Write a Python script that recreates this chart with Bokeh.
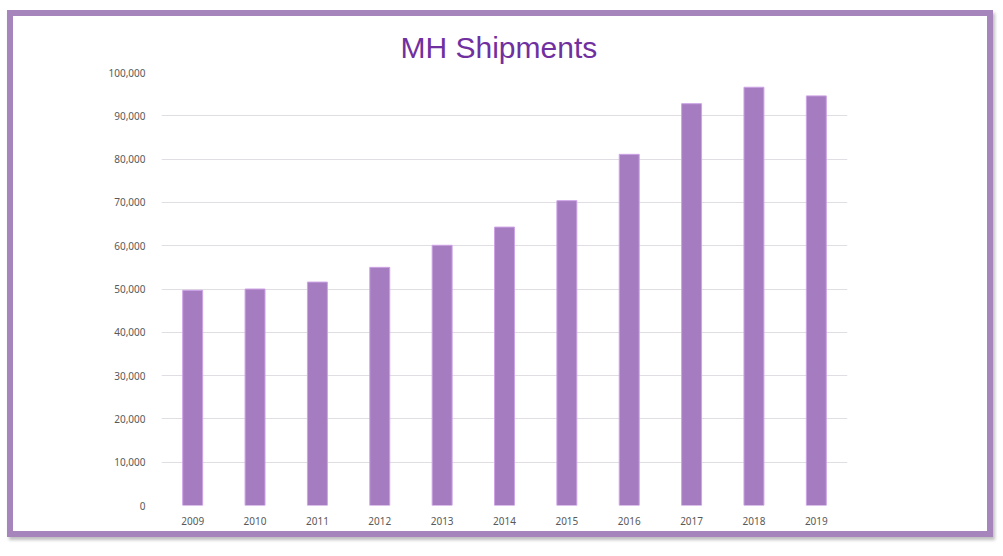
from bokeh.plotting import figure
from bokeh.models import NumeralTickFormatter, FixedTicker, Title
from bokeh.embed import file_html
from bokeh.resources import INLINE

years = ["2009", "2010", "2011", "2012", "2013", "2014", "2015", "2016", "2017", "2018", "2019"]
shipments = [49700, 50000, 51600, 55000, 60100, 64300, 70400, 81100, 92800, 96600, 94600]
y_ticks = [0, 10000, 20000, 30000, 40000, 50000, 60000, 70000, 80000, 90000, 100000]

p = figure(x_range=years, y_range=(0, 100000), width=986, height=527,
           output_backend="svg", toolbar_location=None,
           min_border_left=148, min_border_right=152, min_border_top=56, min_border_bottom=38)
p.styles = {"border": "6px solid #a585bb", "margin-left": "7px", "margin-top": "10px",
            "box-shadow": "2px 3px 3px rgba(0,0,0,0.25)"}

p.vbar(x=years, top=shipments, width=0.32, fill_color="#a67cc0", line_color="#cda3e6", line_width=1)

p.title = Title(text="MH Shipments", align="left", text_font="Liberation Sans",
                text_font_size="30px", text_font_style="normal", text_color="#7030a0",
                standoff=17, offset=239)

p.outline_line_color = None
p.background_fill_color = "white"
p.border_fill_color = "white"

p.yaxis.ticker = FixedTicker(ticks=y_ticks)
p.yaxis.formatter = NumeralTickFormatter(format="0,0")
for ax in (p.xaxis, p.yaxis):
    ax.axis_line_color = None
    ax.major_tick_line_color = None
    ax.minor_tick_line_color = None
    ax.major_label_text_font = "Noto Sans"
    ax.major_label_text_font_size = "10px"
    ax.major_label_text_color = "#595959"
p.yaxis.major_label_standoff = 10
p.xaxis.major_label_standoff = 5

p.xgrid.grid_line_color = None
p.ygrid.grid_line_color = "#e0dde3"
p.ygrid.grid_line_width = 1
p.x_range.range_padding = 0

open("out.html", "w").write(file_html(p, INLINE))
